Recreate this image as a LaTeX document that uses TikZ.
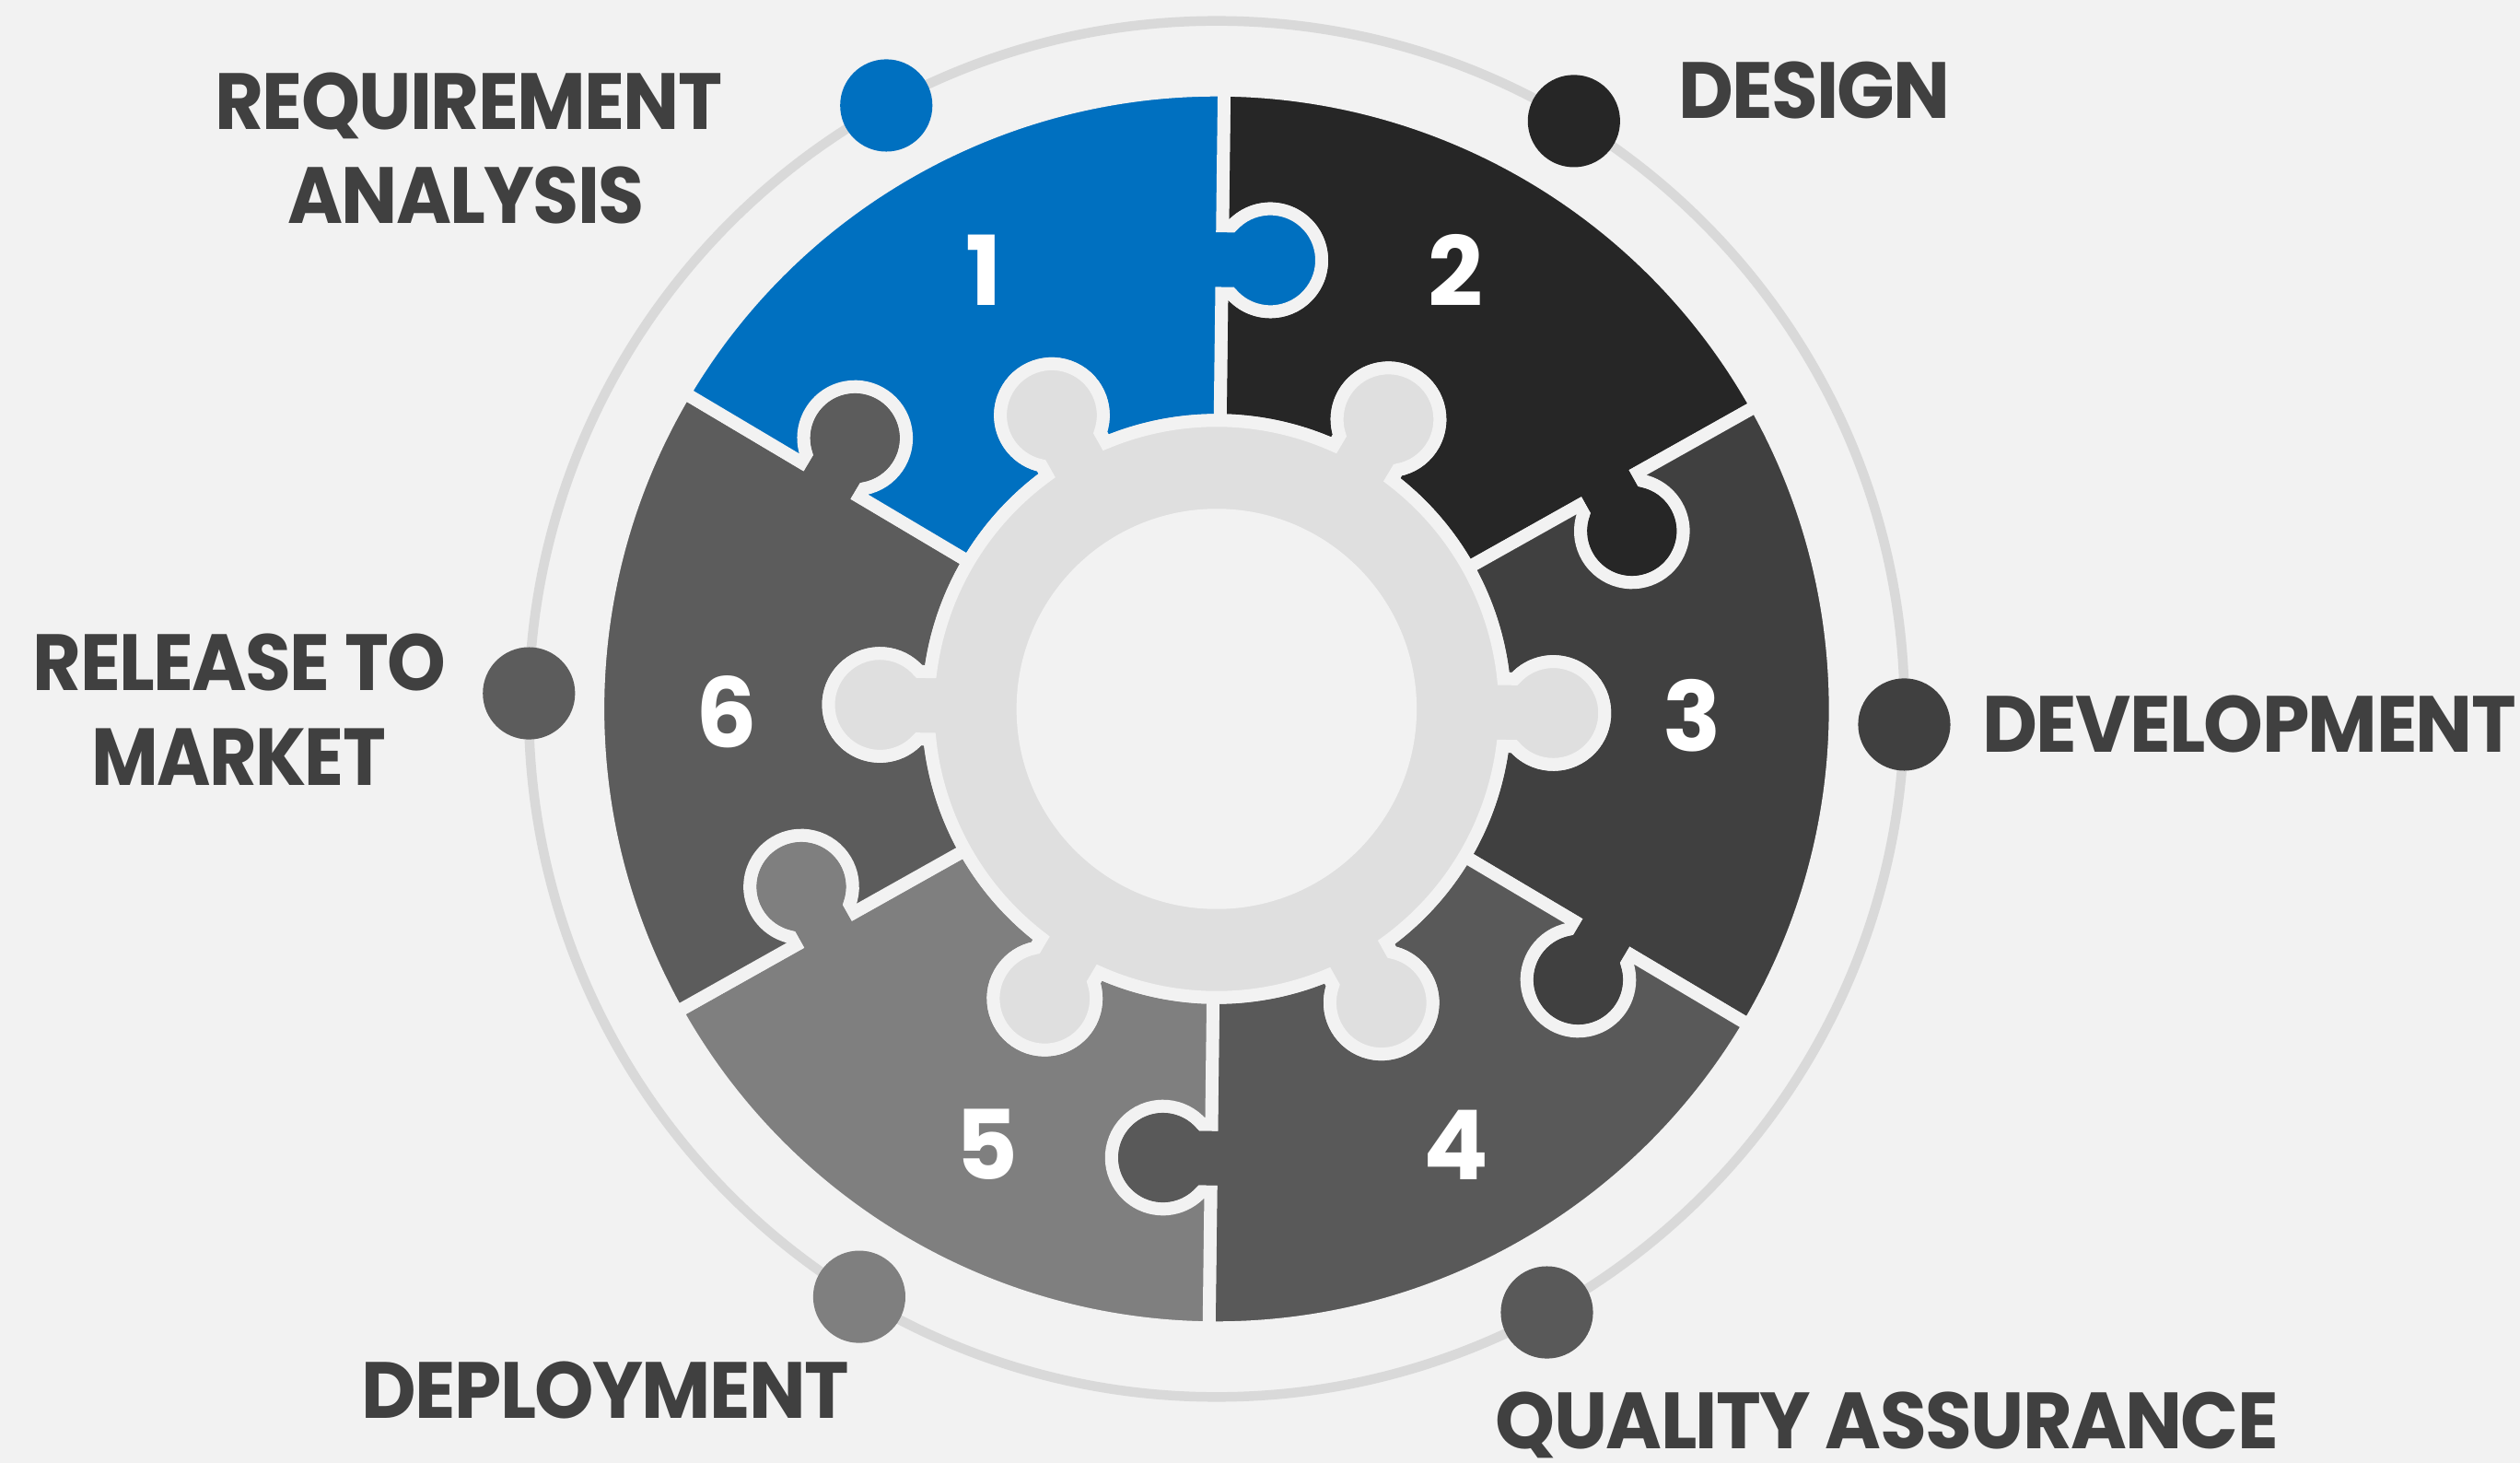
\documentclass[tikz,border=0pt]{standalone}
\usepackage{fontspec}
\setmainfont{Poppins}
\newfontfamily\lblfont{Poppins}[LetterSpace=-2]
\usepackage{graphicx}
\definecolor{bg}{HTML}{F2F2F2}
\definecolor{ringline}{HTML}{D9D9D9}
\definecolor{ringc}{HTML}{DFDFDF}
\definecolor{txt}{HTML}{404040}
\definecolor{seg1}{HTML}{0070C0}
\definecolor{seg2}{HTML}{262626}
\definecolor{seg3}{HTML}{404040}
\definecolor{seg4}{HTML}{595959}
\definecolor{seg5}{HTML}{7F7F7F}
\definecolor{seg6}{HTML}{5C5C5C}
\tikzset{
  piece/.style={draw=bg, line width=8},
  dot/.style={circle, minimum size=57.4pt, inner sep=0pt},
  lbl/.style={text=txt, inner sep=0pt, font=\lblfont\bfseries},
  num/.style={text=white, inner sep=0pt, font=\fontsize{60}{60}\selectfont\bfseries}
}
\newcommand\lbltext[2]{\resizebox{#1pt}{35.3pt}{#2}}
\begin{document}
\begin{tikzpicture}[x=1pt,y=1pt]
\useasboundingbox (-757,-469) rectangle (811,441);
\fill[bg] (-757,-469) rectangle (811,441);
\draw[ringline, line width=6] (0,0) circle[radius=428];
% puzzle pieces
\def\R{385}
\def\ri{179.5}
\foreach \k/\col in {0/seg2,1/seg3,2/seg4,3/seg5,4/seg6,5/seg1}{
  \pgfmathsetmacro\f{30-60*\k-0.7}
  \pgfmathsetmacro\fp{\f+60}
  \pgfmathsetmacro\ps{\f+30}
  \pgfmathsetmacro\fa{\f+48.99}
  \pgfmathsetmacro\fb{\f-228.99}
  \pgfmathsetmacro\fpa{\fp+48.99}
  \pgfmathsetmacro\fpb{\fp-228.99}
  \pgfmathsetmacro\fn{\f-90}
  \pgfmathsetmacro\fpn{\fp-90}
  \pgfmathsetmacro\pa{\ps-6.718}
  \pgfmathsetmacro\pb{\ps+6.718}
  \pgfmathsetmacro\pc{\ps-138.99}
  \pgfmathsetmacro\pd{\ps+138.99}
  \pgfmathsetmacro\pe{\ps+180}
  \path[piece, fill=\col]
   (\fp:\R) arc[start angle=\fp, end angle=\f, radius=\R]
   -- (\f:300.5) -- ++(\fn:5.855) arc[start angle=\fa, end angle=\fb, radius=32] -- (\f:258.5)
   -- (\f:\ri) arc[start angle=\f, end angle=\pa, radius=\ri]
   -- ++(\ps:7.088) arc[start angle=\pc, end angle=\pd, radius=32] -- ++(\pe:7.088)
   arc[start angle=\pb, end angle=\fp, radius=\ri]
   -- (\fp:258.5) -- ++(\fpn:5.855) arc[start angle=\fpb, end angle=\fpa, radius=32] -- (\fp:300.5)
   -- cycle;
}
% central ring
\path[piece, fill=ringc] (-53.982:\ri)
  \foreach \k [evaluate=\k as \ps using 60*\k-0.7,
               evaluate=\k as \qa using 60*\k-0.7-53.282,
               evaluate=\k as \qb using 60*\k-0.7-6.718,
               evaluate=\k as \qc using 60*\k-0.7-138.99,
               evaluate=\k as \qd using 60*\k-0.7+138.99,
               evaluate=\k as \qe using 60*\k-0.7+180] in {0,...,5}{
    arc[start angle=\qa, end angle=\qb, radius=\ri] -- ++(\ps:7.088)
    arc[start angle=\qc, end angle=\qd, radius=32] -- ++(\qe:7.088)
  } -- cycle;
\fill[bg] (0,0) circle[radius=124.5];
% dots
\node[dot, fill=seg1] (d1) at (118.7:428) {};
\node[dot, fill=seg2] (d2) at (58.7:428) {};
\node[dot, fill=seg3] (d3) at (-1.3:428) {};
\node[dot, fill=seg4] (d4) at (-61.3:428) {};
\node[dot, fill=seg5] (d5) at (-121.3:428) {};
\node[dot, fill=seg6] (d6) at (178.7:428) {};
% numbers
\node[num] (n1) at (-145,273) {1};
\node[num] (n2) at (149,273) {2};
\node[num] (n3) at (296,-4) {3};
\node[num] (n4) at (149,-271) {4};
\node[num] (n5) at (-143,-271) {5};
\node[num] (n6) at (-305,-2) {6};
% labels
\node[lbl, anchor=base] (l1a) at (-465.3,360.6) {\lbltext{315.8}{REQUIREMENT}};
\node[lbl, anchor=base] (l1b) at (-467.1,301.9) {\lbltext{222.1}{ANALYSIS}};
\node[lbl, anchor=base west] (l2) at (287,367.1) {\lbltext{169.4}{DESIGN}};
\node[lbl, anchor=base west] (l3) at (476.4,-27.2) {\lbltext{332}{DEVELOPMENT}};
\node[lbl, anchor=base west] (l4) at (173.5,-460) {\lbltext{487}{QUALITY ASSURANCE}};
\node[lbl, anchor=base west] (l5) at (-532,-441) {\lbltext{303}{DEPLOYMENT}};
\node[lbl, anchor=base] (l6a) at (-607.9,11.2) {\lbltext{257}{RELEASE TO}};
\node[lbl, anchor=base] (l6b) at (-608.5,-47.4) {\lbltext{183.4}{MARKET}};
\end{tikzpicture}
\end{document}
